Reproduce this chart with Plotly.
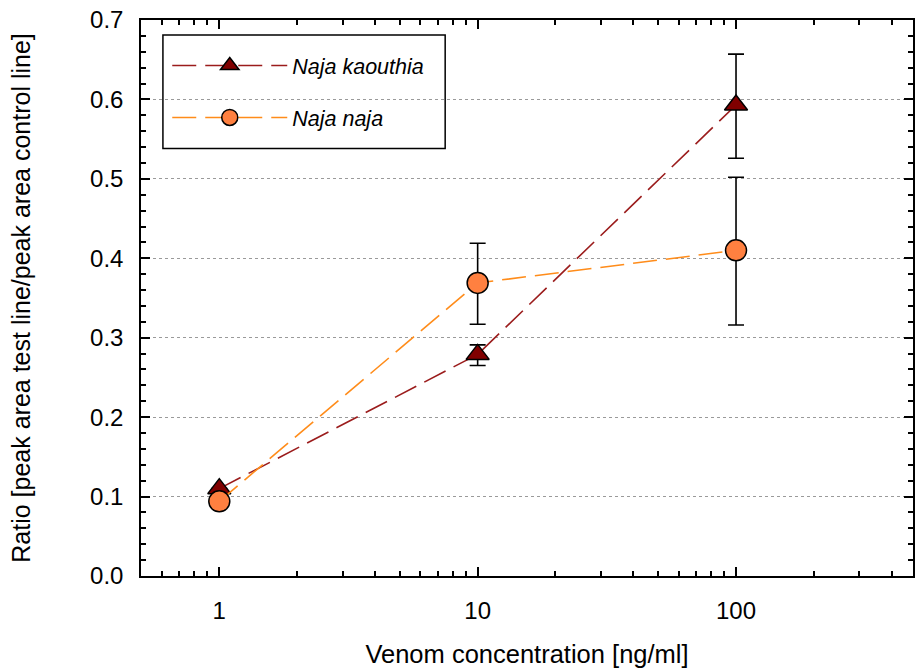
import plotly.graph_objects as go

conc = [1, 10, 100]
kaouthia_y = [0.11, 0.279, 0.593]
kaouthia_err_plus = [None, 0.012, 0.064]
kaouthia_err_minus = [None, 0.014, 0.067]
naja_y = [0.094, 0.369, 0.41]
naja_err_plus = [None, 0.05, 0.092]
naja_err_minus = [None, 0.052, 0.094]

x_major = [1, 10, 100]
x_minor = [0.6, 0.7, 0.8, 0.9, 2, 3, 4, 5, 6, 7, 8, 9,
           20, 30, 40, 50, 60, 70, 80, 90, 200, 300, 400]

FONT = "Liberation Sans, Arial, sans-serif"

fig = go.Figure()
fig.add_trace(go.Scatter(
    x=conc, y=kaouthia_y, name="<i>Naja kaouthia</i>", mode="lines+markers",
    legendgroup="a",
    line=dict(color="#9b1c1c", width=1.6, dash="24px,9px"),
    marker=dict(symbol="triangle-up", size=20, color="#800000",
                line=dict(color="black", width=1.5)),
    error_y=dict(type="data", symmetric=False, array=kaouthia_err_plus,
                 arrayminus=kaouthia_err_minus, color="black", thickness=1.6, width=8),
))
fig.add_trace(go.Scatter(
    x=conc, y=naja_y, name="<i>Naja naja</i>", mode="lines+markers",
    legendgroup="b",
    line=dict(color="#ff8c1a", width=1.6, dash="24px,9px"),
    marker=dict(symbol="circle", size=21, color="#ff8040",
                line=dict(color="black", width=1.5)),
    error_y=dict(type="data", symmetric=False, array=naja_err_plus,
                 arrayminus=naja_err_minus, color="black", thickness=1.6, width=8),
))

# legend frame (decoration)
fig.add_shape(type="rect", xref="paper", yref="paper",
              x0=0.0284, x1=0.394, y0=0.769, y1=0.973,
              line=dict(color="black", width=1.5), fillcolor="white",
              layer="between")

fig.update_layout(
    width=921, height=670,
    margin=dict(l=141, r=6, t=18, b=94),
    paper_bgcolor="white", plot_bgcolor="white",
    font=dict(family=FONT, size=24, color="black"),
    showlegend=True,
    legend=dict(
        x=0.034, y=0.955, xanchor="left", yanchor="top",
        bgcolor="rgba(0,0,0,0)", borderwidth=0,
        font=dict(family=FONT, size=21.5, color="black"),
        traceorder="grouped", tracegroupgap=21,
        itemwidth=115,
    ),
)
fig.update_xaxes(
    type="log", range=[-0.303, 2.685],
    tickmode="array", tickvals=x_major, ticktext=["1", "10", "100"],
    ticks="inside", ticklen=9, tickwidth=1.5, tickcolor="black",
    minor=dict(tickmode="array", tickvals=x_minor, ticks="inside",
               ticklen=5, tickwidth=1.5, tickcolor="black", showgrid=False),
    showline=True, linecolor="black", linewidth=1.5, mirror="allticks",
    showgrid=False, zeroline=False,
    ticklabelstandoff=12,
    title=dict(text="Venom concentration [ng/ml]", standoff=23,
               font=dict(family=FONT, size=25.5)),
    tickfont=dict(family=FONT, size=24),
)
fig.update_yaxes(
    range=[0, 0.7], dtick=0.1, tick0=0, tickformat=".1f",
    ticks="inside", ticklen=9, tickwidth=1.5, tickcolor="black",
    minor=dict(dtick=0.02, ticks="inside", ticklen=5, tickwidth=1.5,
               tickcolor="black", showgrid=False),
    showline=True, linecolor="black", linewidth=1.5, mirror="allticks",
    showgrid=True, gridcolor="#9a9a9a", griddash="dot", gridwidth=1,
    zeroline=False,
    ticklabelstandoff=11,
    title=dict(text="Ratio [peak area test line/peak area control line]",
               standoff=52, font=dict(family=FONT, size=25)),
    tickfont=dict(family=FONT, size=24),
)

fig.write_html("out.html")
